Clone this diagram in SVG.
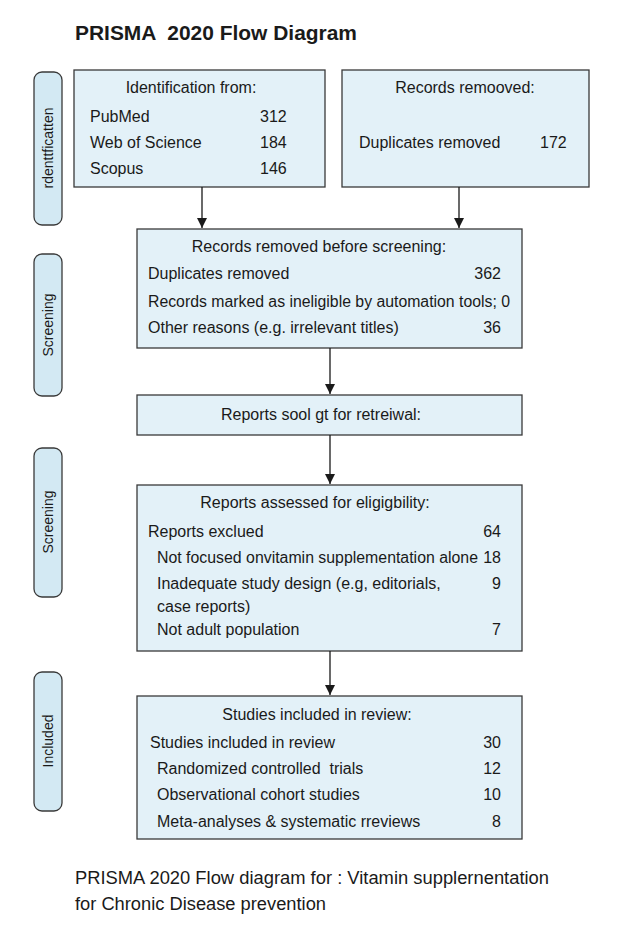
<svg xmlns="http://www.w3.org/2000/svg" width="621" height="931" viewBox="0 0 621 931">
<style>
text{font-family:"Liberation Sans",Arial,sans-serif;fill:#1a1a1a}
.box{fill:#e3f1f8;stroke:#3a3a3a;stroke-width:1.3}
.side{fill:#d3e9f3;stroke:#3a3a3a;stroke-width:1.3}
.t{font-size:16px}
.h{font-size:16px;text-anchor:middle}
.n{font-size:16px;text-anchor:end}
.s{font-size:14px;text-anchor:middle}
.c{stroke:#1a1a1a;stroke-width:1.3;fill:none}
</style>
<defs>
<marker id="ah" viewBox="0 0 10 10" refX="10" refY="5" markerWidth="10" markerHeight="10" markerUnits="userSpaceOnUse" orient="auto">
<path d="M0,0 L10,5 L0,10 z" fill="#1a1a1a"/>
</marker>
</defs>
<rect width="621" height="931" fill="#ffffff"/>
<text x="75" y="40" xml:space="preserve" style="font-size:20.5px;font-weight:bold" textLength="282" lengthAdjust="spacingAndGlyphs">PRISMA  2020 Flow Diagram</text>

<g id="side-identification"><rect class="side" x="34" y="72" width="28" height="153" rx="8"/><text class="s" transform="translate(53,148) rotate(-90)">rdenttficatten</text></g>
<g id="side-screening1"><rect class="side" x="34" y="254" width="28" height="142" rx="8"/><text class="s" transform="translate(53,325) rotate(-90)">Screening</text></g>
<g id="side-screening2"><rect class="side" x="34" y="448" width="28" height="149" rx="8"/><text class="s" transform="translate(53,522) rotate(-90)">Screening</text></g>
<g id="side-included"><rect class="side" x="34" y="672" width="28" height="139" rx="8"/><text class="s" transform="translate(53,741) rotate(-90)">Included</text></g>

<g id="identification">
<rect class="box" x="74" y="70" width="251" height="117"/>
<text class="h" x="191" y="93">Identification from:</text>
<text class="t" x="90" y="122">PubMed</text><text class="t" x="260" y="122">312</text>
<text class="t" x="90" y="148">Web of Science</text><text class="t" x="260" y="148">184</text>
<text class="t" x="90" y="174">Scopus</text><text class="t" x="260" y="174">146</text>
</g>

<g id="records-removed">
<rect class="box" x="342" y="70" width="247" height="117"/>
<text class="h" x="465" y="93">Records remooved:</text>
<text class="t" x="359" y="148">Duplicates removed</text><text class="t" x="540" y="148">172</text>
</g>

<g id="before-screening">
<rect class="box" x="137" y="229" width="385" height="119"/>
<text class="h" x="319" y="252">Records removed before screening:</text>
<text class="t" x="148" y="279">Duplicates removed</text><text class="n" x="501" y="279">362</text>
<text class="t" x="148" y="307" textLength="362" lengthAdjust="spacingAndGlyphs">Records marked as ineligible by automation tools; 0</text>
<text class="t" x="148" y="333">Other reasons (e.g. irrelevant titles)</text><text class="n" x="501" y="333">36</text>
</g>

<g id="sought">
<rect class="box" x="137" y="395" width="385" height="40"/>
<text class="h" x="321" y="420">Reports sool gt for retreiwal:</text>
</g>

<g id="assessed">
<rect class="box" x="137" y="485" width="385" height="166"/>
<text class="h" x="315" y="508">Reports assessed for eligigbility:</text>
<text class="t" x="148" y="537">Reports exclued</text><text class="n" x="501" y="537">64</text>
<text class="t" x="157" y="563" textLength="321" lengthAdjust="spacingAndGlyphs">Not focused onvitamin supplementation alone</text><text class="n" x="501" y="563">18</text>
<text class="t" x="157" y="589">Inadequate study design (e.g, editorials,</text><text class="n" x="501" y="589">9</text>
<text class="t" x="157" y="612">case reports)</text>
<text class="t" x="157" y="635">Not adult population</text><text class="n" x="501" y="635">7</text>
</g>

<g id="included">
<rect class="box" x="137" y="696" width="385" height="143"/>
<text class="h" x="317" y="720">Studies included in review:</text>
<text class="t" x="150" y="748">Studies included in review</text><text class="n" x="501" y="748">30</text>
<text class="t" x="157" y="774" xml:space="preserve">Randomized controlled  trials</text><text class="n" x="501" y="774">12</text>
<text class="t" x="157" y="800">Observational cohort studies</text><text class="n" x="501" y="800">10</text>
<text class="t" x="157" y="827">Meta-analyses &amp; systematic rreviews</text><text class="n" x="501" y="827">8</text>
</g>

<g id="connectors">
<line class="c" x1="202" y1="187" x2="202" y2="228" marker-end="url(#ah)"/>
<line class="c" x1="459" y1="187" x2="459" y2="228" marker-end="url(#ah)"/>
<line class="c" x1="330" y1="348" x2="330" y2="394" marker-end="url(#ah)"/>
<line class="c" x1="330" y1="435" x2="330" y2="484" marker-end="url(#ah)"/>
<line class="c" x1="330" y1="651" x2="330" y2="695" marker-end="url(#ah)"/>
</g>

<text x="75" y="884" style="font-size:18.3px" textLength="474" lengthAdjust="spacingAndGlyphs">PRISMA 2020 Flow diagram for : Vitamin supplernentation</text>
<text x="75" y="910" style="font-size:18.3px">for Chronic Disease prevention</text>
</svg>
